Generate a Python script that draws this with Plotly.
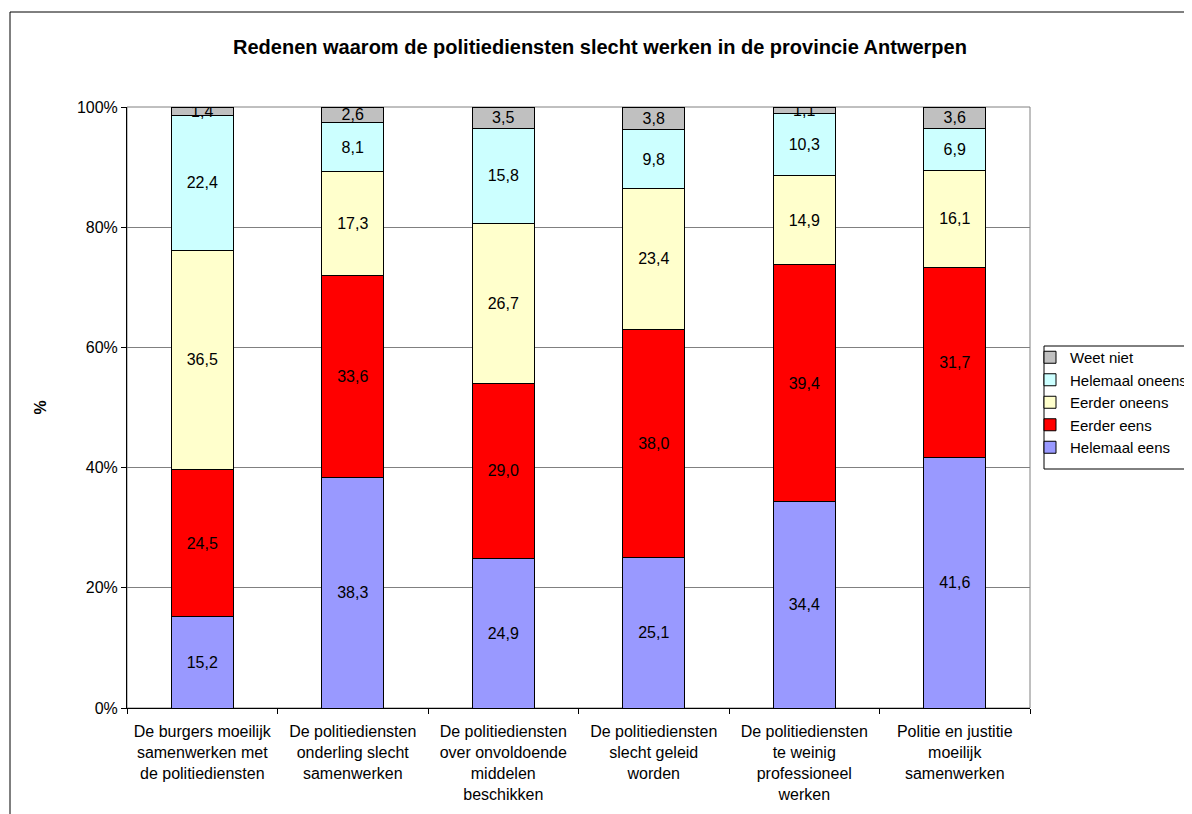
import plotly.graph_objects as go

categories = [
    "De burgers moeilijk<br>samenwerken met<br>de politiediensten",
    "De politiediensten<br>onderling slecht<br>samenwerken",
    "De politiediensten<br>over onvoldoende<br>middelen<br>beschikken",
    "De politiediensten<br>slecht geleid<br>worden",
    "De politiediensten<br>te weinig<br>professioneel<br>werken",
    "Politie en justitie<br>moeilijk<br>samenwerken",
]

helemaal_eens = [15.2, 38.3, 24.9, 25.1, 34.4, 41.6]
eerder_eens = [24.5, 33.6, 29.0, 38.0, 39.4, 31.7]
eerder_oneens = [36.5, 17.3, 26.7, 23.4, 14.9, 16.1]
helemaal_oneens = [22.4, 8.1, 15.8, 9.8, 10.3, 6.9]
weet_niet = [1.4, 2.6, 3.5, 3.8, 1.1, 3.6]

series = [
    ("Helemaal eens", helemaal_eens, "#9999FF"),
    ("Eerder eens", eerder_eens, "#FF0000"),
    ("Eerder oneens", eerder_oneens, "#FFFFCC"),
    ("Helemaal oneens", helemaal_oneens, "#CCFFFF"),
    ("Weet niet", weet_niet, "#C0C0C0"),
]

FONT = "Liberation Sans, Arial"
PW, PH = 903, 601  # plot area size in px

fig = go.Figure()
for name, vals, col in series:
    fig.add_trace(go.Bar(
        name=name, x=categories, y=vals,
        marker=dict(color=col, line=dict(color="black", width=1)),
        text=[f"{v:.1f}".replace(".", ",") for v in vals],
        textposition="inside", insidetextanchor="middle", textangle=0,
        textfont=dict(color="black", size=16, family=FONT),
        hoverinfo="skip",
    ))

# page has an 8px body margin, so offsets are shifted by 8
fig.update_layout(
    barmode="stack", barnorm="percent", bargap=0.588,
    width=1192, height=814,
    margin=dict(l=119, r=170, t=99, b=114, autoexpand=False),
    paper_bgcolor="white", plot_bgcolor="white",
    font=dict(family=FONT, size=16, color="black"),
    uniformtext=dict(minsize=16, mode="show"),
    title=dict(
        text="<b>Redenen waarom de politiediensten slecht werken in de provincie Antwerpen</b>",
        x=592 / 1192, xanchor="center", xref="container", y=1 - 39 / 814, yanchor="middle",
        font=dict(size=20, color="black"),
    ),
    legend=dict(
        x=(1030 - 127) / PW, xanchor="left", y=(708 - 341) / PH, yanchor="top",
        traceorder="reversed", borderwidth=0,
        bgcolor="rgba(0,0,0,0)", font=dict(size=15), tracegroupgap=0,
    ),
    showlegend=True,
)

fig.update_xaxes(
    showline=True, linecolor="black", linewidth=1,
    ticks="outside", tickson="boundaries", ticklen=5, tickcolor="black",
    tickfont=dict(size=16), showgrid=False, ticklabelstandoff=9,
)
fig.update_yaxes(
    range=[0, 100], tickvals=[0, 20, 40, 60, 80, 100],
    ticktext=["0%", "20%", "40%", "60%", "80%", "100%"],
    showline=True, linecolor="black", linewidth=1,
    ticks="outside", ticklen=5, tickcolor="black",
    showgrid=True, gridcolor="#808080", gridwidth=1,
    title=dict(text="<b>%</b>", font=dict(size=16), standoff=26),
    tickfont=dict(size=16), zeroline=False,
)

# plot area border (gray)
fig.add_shape(
    type="rect", xref="paper", yref="paper", x0=0, x1=1, y0=0, y1=1,
    line=dict(color="#808080", width=1), fillcolor="rgba(0,0,0,0)", layer="below",
)
# legend box
fig.add_shape(
    type="rect", xref="paper", yref="paper",
    x0=(1044 - 127) / PW, x1=1.4, y0=(708 - 469) / PH, y1=(708 - 346) / PH,
    line=dict(color="black", width=1), fillcolor="rgba(0,0,0,0)", layer="below",
)
# chart outer border
fig.add_shape(
    type="rect", xref="paper", yref="paper",
    x0=(10 - 127) / PW, x1=1.3, y0=-0.3, y1=(708 - 12) / PH,
    line=dict(color="black", width=1), fillcolor="rgba(0,0,0,0)", layer="below",
)

fig.write_html("out.html")
